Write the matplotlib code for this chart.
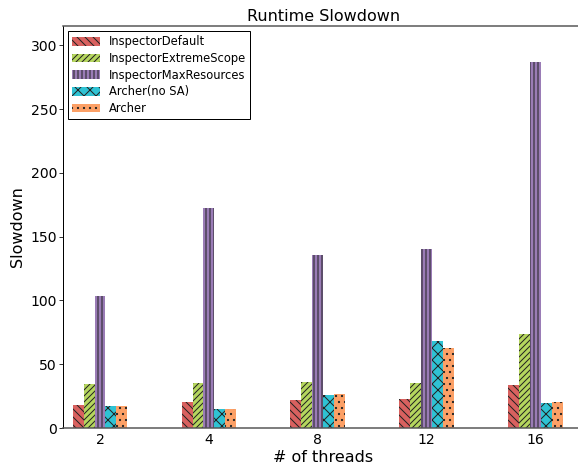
import numpy as np
import matplotlib
matplotlib.use('Agg')
import matplotlib.pyplot as plt

threads = ['2', '4', '8', '12', '16']
series = ['InspectorDefault', 'InspectorExtremeScope', 'InspectorMaxResources', 'Archer(no SA)', 'Archer']
inspector_default = [18, 20.5, 22, 22.8, 33.8]
inspector_extreme = [34.5, 35.2, 36.2, 35.4, 73.5]
inspector_maxres = [103.5, 172.5, 135.5, 140.5, 286.5]
archer_nosa = [17.2, 14.8, 25.8, 68, 19.5]
archer = [17.2, 14.8, 26.6, 62.8, 20.3]

data = [inspector_default, inspector_extreme, inspector_maxres, archer_nosa, archer]
colors = ['#d9615f', '#b5d65e', '#9a7cb6', '#2fc2d3', '#fca066']
hatches = ['\\\\\\', '////', '|||', 'xx', '..']

plt.rcParams['hatch.linewidth'] = 1.0

fig = plt.figure(figsize=(578 / 72, 469 / 72), dpi=72)
ax = fig.add_axes([0.109, 0.0874, 0.9, 0.857])

ind = np.arange(len(threads))
w = 0.1
for i, (vals, name) in enumerate(zip(data, series)):
    ax.bar(ind + i * w, vals, w, align='edge', color=colors[i], edgecolor='#222222',
           linewidth=0, hatch=hatches[i], label=name)

ax.set_xlim(-0.09, 4.69)
ax.set_ylim(0, 315)
ax.set_xticks(ind + 2.5 * w)
ax.set_xticklabels(threads, fontsize=14)
ax.set_yticks(range(0, 301, 50))
ax.tick_params(axis='y', direction='out', length=4, labelsize=14, pad=2)
ax.tick_params(axis='x', length=0, labelsize=14, pad=5)
ax.spines['right'].set_visible(False)
for s in ['top', 'bottom']:
    ax.spines[s].set_color('#555555')
    ax.spines[s].set_linewidth(1.5)
ax.spines['left'].set_linewidth(1.0)

ax.set_title('Runtime Slowdown', fontsize=16, pad=5)
ax.set_xlabel('# of threads', fontsize=16, labelpad=3)
ax.set_ylabel('Slowdown', fontsize=16, labelpad=6)
leg = ax.legend(loc='upper left', fontsize=11.5, fancybox=False, framealpha=1,
                edgecolor='black', handlelength=2.4, handleheight=0.8, borderaxespad=0.45,
                labelspacing=0.32, borderpad=0.35, handletextpad=0.8)
leg.get_frame().set_linewidth(1.0)

fig.savefig('out.png', dpi=72)
